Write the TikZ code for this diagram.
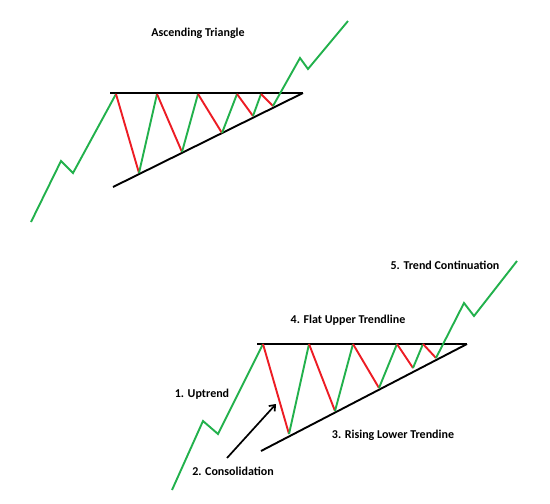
\documentclass[tikz,border=0pt]{standalone}
\usepackage{fontspec}
\setmainfont{Carlito}
\usetikzlibrary{arrows.meta}
\definecolor{upg}{RGB}{34,177,76}
\definecolor{dnr}{RGB}{237,28,36}
\tikzset{
  upseg/.style={draw=upg,line width=1.9pt,line join=miter},
  dnseg/.style={draw=dnr,line width=1.9pt},
  trend/.style={draw=black,line width=1.9pt},
  lbl/.style={font=\bfseries\fontsize{12}{14}\selectfont,inner sep=0pt}
}
\begin{document}
\begin{tikzpicture}[x=1pt,y=-1pt]
\useasboundingbox[fill=white] (0,0) rectangle (550,504);
% ---- top diagram ----
\coordinate (a0) at (31,222);
\coordinate (a1) at (61,161);
\coordinate (a2) at (73,173);
\coordinate (a3) at (116,94);
\coordinate (b1) at (139,173);
\coordinate (c1) at (157,94);
\coordinate (b2) at (182,152);
\coordinate (c2) at (198,94);
\coordinate (b3) at (222,133);
\coordinate (c3) at (237,94);
\coordinate (b4) at (253,116);
\coordinate (c4) at (261,94);
\coordinate (b5) at (273,106);
\coordinate (d1) at (300,58);
\coordinate (d2) at (308,69);
\coordinate (d3) at (348,21);
\coordinate (ul) at (110,93);
\coordinate (ur) at (303,93);
\coordinate (ll) at (113,187);
\draw[trend] (ul) -- (ur);
\draw[trend] (ll) -- (ur);
\draw[upseg] (a0) -- (a1) -- (a2) -- (a3);
\draw[dnseg] (a3) -- (b1);
\draw[upseg] (b1) -- (c1);
\draw[dnseg] (c1) -- (b2);
\draw[upseg] (b2) -- (c2);
\draw[dnseg] (c2) -- (b3);
\draw[upseg] (b3) -- (c3);
\draw[dnseg] (c3) -- (b4);
\draw[upseg] (b4) -- (c4);
\draw[dnseg] (c4) -- (b5);
\draw[upseg] (b5) -- (d1) -- (d2) -- (d3);
\node[lbl] (title) at (198,33) {Ascending Triangle};
% ---- bottom diagram ----
\coordinate (A0) at (172,490);
\coordinate (A1) at (203,421);
\coordinate (A2) at (218,434);
\coordinate (A3) at (263,344);
\coordinate (B1) at (289,434);
\coordinate (C1) at (309,344);
\coordinate (B2) at (335,411);
\coordinate (C2) at (353,344);
\coordinate (B3) at (379,388);
\coordinate (C3) at (397,344);
\coordinate (B4) at (413,368);
\coordinate (C4) at (423,344);
\coordinate (B5) at (436,358);
\coordinate (D1) at (464,303);
\coordinate (D2) at (474,316);
\coordinate (D3) at (517,261);
\coordinate (UL) at (257,344);
\coordinate (UR) at (467,344);
\coordinate (LL) at (261,451);
\draw[trend] (UL) -- (UR);
\draw[trend] (LL) -- (UR);
\draw[upseg] (A0) -- (A1) -- (A2) -- (A3);
\draw[dnseg] (A3) -- (B1);
\draw[upseg] (B1) -- (C1);
\draw[dnseg] (C1) -- (B2);
\draw[upseg] (B2) -- (C2);
\draw[dnseg] (C2) -- (B3);
\draw[upseg] (B3) -- (C3);
\draw[dnseg] (C3) -- (B4);
\draw[upseg] (B4) -- (C4);
\draw[dnseg] (C4) -- (B5);
\draw[upseg] (B5) -- (D1) -- (D2) -- (D3);
\node[lbl] (l5) at (445,265) {5. Trend Continuation};
\node[lbl] (l4) at (348,320) {4. Flat Upper Trendline};
\node[lbl] (l1) at (202,394) {1. Uptrend};
\node[lbl] (l3) at (393,435) {3. Rising Lower Trendine};
\node[lbl] (l2) at (233,471) {2. Consolidation};
\coordinate (arS) at (227,458);
\coordinate (arE) at (276,404);
\draw[trend,line width=1.7pt,-{Straight Barb[length=5pt,width=8pt]}] (arS) -- (arE);
\end{tikzpicture}
\end{document}
